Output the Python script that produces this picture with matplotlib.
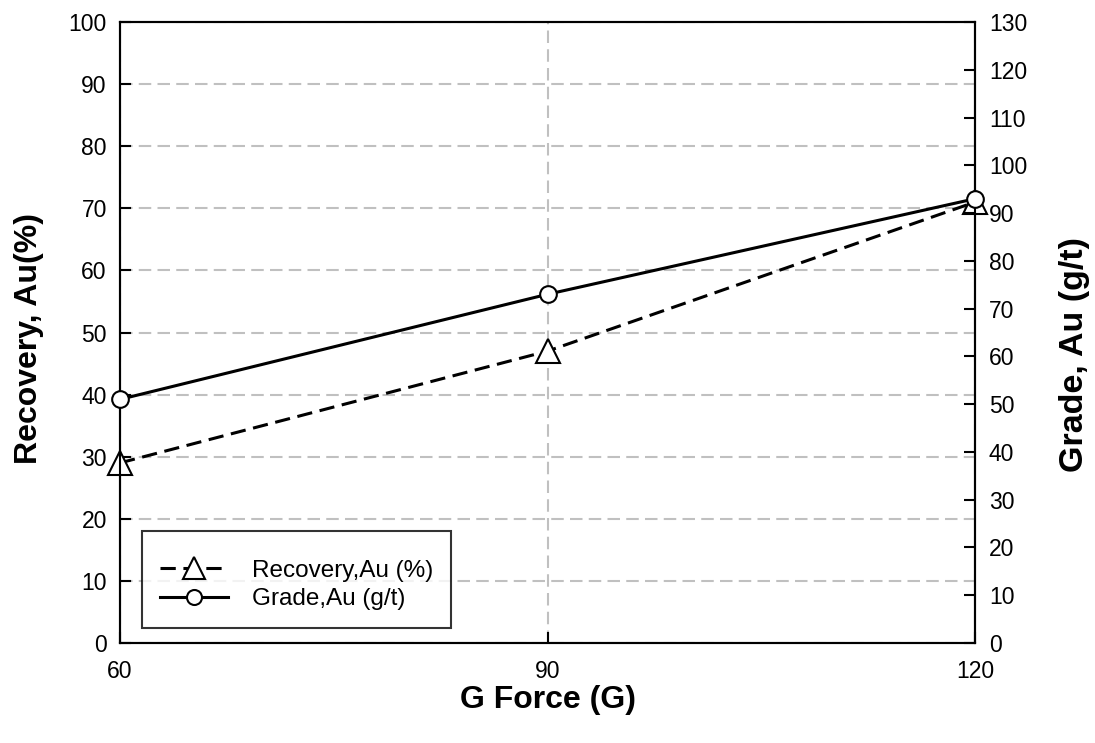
import matplotlib
matplotlib.use("Agg")
import matplotlib.pyplot as plt

plt.rcParams['font.family'] = ['Liberation Sans', 'DejaVu Sans']

g_force = [60, 90, 120]
recovery = [29, 47, 71]
grade = [51, 73, 93]
x_ticks = [60, 90, 120]
left_ticks = list(range(0, 101, 10))
right_ticks = list(range(0, 131, 10))

fig = plt.figure(figsize=(10.95, 7.43), dpi=100)
ax = fig.add_axes([120/1095, 1-643/743, (975-120)/1095, (643-22)/743])
ax2 = ax.twinx()

ax.set_xlim(60, 120)
ax.set_ylim(0, 100)
ax2.set_ylim(0, 130)
ax.set_xticks(x_ticks)
ax.set_yticks(left_ticks)
ax2.set_yticks(right_ticks)

ax.yaxis.grid(True, color='#c0c0c0', linestyle=(0, (6, 3)), linewidth=1.5)
ax.xaxis.grid(True, color='#c0c0c0', linestyle=(0, (6, 3)), linewidth=1.5)
ax.set_axisbelow(True)

l1, = ax.plot(g_force, recovery, color='black', linestyle=(0, (5, 2.5)), linewidth=2.2,
              marker='^', markersize=17, markerfacecolor='white', markeredgecolor='black',
              markeredgewidth=1.5, label='Recovery,Au (%)', clip_on=False, zorder=5)
l2, = ax2.plot(g_force, grade, color='black', linestyle='-', linewidth=2.2,
               marker='o', markersize=12, markerfacecolor='white', markeredgecolor='black',
               markeredgewidth=1.5, label='Grade,Au (g/t)', clip_on=False, zorder=5)

for a in (ax, ax2):
    for s in a.spines.values():
        s.set_linewidth(1.5)
ax.tick_params(axis='both', direction='in', length=8, width=1.5, labelsize=16.5, pad=9.5)
ax.tick_params(axis='x', pad=12)
ax2.tick_params(axis='y', direction='in', length=8, width=1.5, labelsize=16.5, pad=10)

ax.set_xlabel('G Force (G)', fontsize=23, fontweight='bold')
ax.set_ylabel('Recovery, Au(%)', fontsize=23, fontweight='bold')
ax2.set_ylabel('Grade, Au (g/t)', fontsize=24.5, fontweight='bold')
ax.xaxis.set_label_coords(0.5, -0.068)
ax.yaxis.set_label_coords(-0.0889, 0.491)
ax2.yaxis.set_label_coords(1.0985, 0.4638)

leg = ax2.legend(handles=[l1, l2], loc='lower left', bbox_to_anchor=(22/855, 15/621),
                 fontsize=17.5, frameon=True, fancybox=False, edgecolor='black',
                 handlelength=2.8, borderpad=0.72, labelspacing=0.28, handletextpad=1.0,
                 borderaxespad=0, title=' ', title_fontsize=3)
leg.get_frame().set_linewidth(1.5)
leg.set_zorder(10)
for h in leg.legend_handles:
    h.set_markersize(h.get_markersize() * 0.9)

fig.savefig('out.png', dpi=100, facecolor='white')
